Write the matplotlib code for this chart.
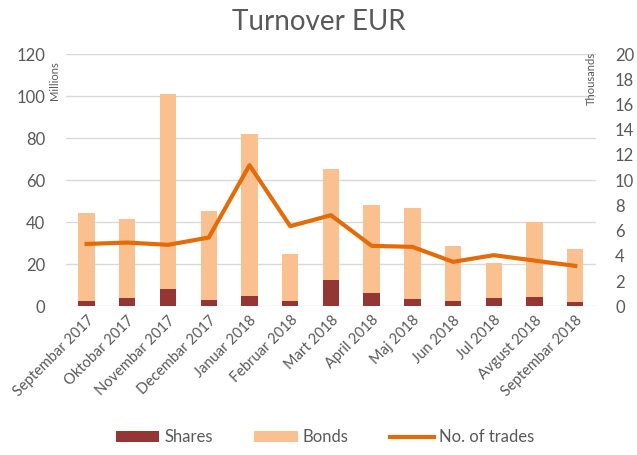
import matplotlib
matplotlib.use("Agg")
import matplotlib.pyplot as plt
import numpy as np

plt.rcParams['font.family'] = ['Lato', 'DejaVu Sans']

months = ["Septembar 2017", "Oktobar 2017", "Novembar 2017", "Decembar 2017",
          "Januar 2018", "Februar 2018", "Mart 2018", "April 2018", "Maj 2018",
          "Jun 2018", "Jul 2018", "Avgust 2018", "Septembar 2018"]
shares = [2.5, 4.0, 8.1, 2.9, 4.9, 2.4, 12.7, 6.2, 3.5, 2.4, 3.7, 4.4, 1.8]   # millions
totals = [44.6, 41.4, 101.1, 45.1, 81.9, 24.8, 65.1, 48.3, 46.8, 28.6, 20.6, 40.0, 27.1]
bonds = [t - s for t, s in zip(totals, shares)]
trades = [4.94, 5.05, 4.87, 5.45, 11.19, 6.35, 7.22, 4.79, 4.71, 3.52, 4.05, 3.62, 3.2]  # thousands

grey = "#595959"
fig = plt.figure(figsize=(6.37, 4.55), dpi=100)
ax = fig.add_axes([0.104, 0.327, 0.831, 0.554])
x = np.arange(len(months))
ax.bar(x, shares, width=0.4, color="#943634", label="Shares", zorder=2)
ax.bar(x, bonds, width=0.4, bottom=shares, color="#FAC090", label="Bonds", zorder=2)
ax.set_ylim(0, 120)
ax.set_yticks(range(0, 121, 20))
ax.set_xlim(-0.5, len(months) - 0.5)
ax.grid(axis="y", color="#d9d9d9", linewidth=1, zorder=0)
ax.set_axisbelow(True)
for s in ax.spines.values():
    s.set_visible(False)
ax.tick_params(length=0, colors=grey, labelsize=12)
ax.tick_params(axis="y", pad=15)
ax.set_xticks(x)
ax.set_xticklabels(months, rotation=45, ha="right", rotation_mode="anchor", fontsize=10.5)
ax.tick_params(axis="x", pad=5)

ax2 = ax.twinx()
ax2.plot(x, trades, color="#E36C09", linewidth=3, label="No. of trades", zorder=3)
ax2.set_ylim(0, 20)
ax2.set_yticks(range(0, 21, 2))
for s in ax2.spines.values():
    s.set_visible(False)
ax2.tick_params(length=0, colors=grey, labelsize=12, pad=14)

fig.text(0.085, 0.865, "Millions", rotation=90, ha="center", va="top", fontsize=8, color=grey)
fig.text(0.928, 0.885, "Thousands", rotation=90, ha="center", va="top", fontsize=8, color=grey)
fig.suptitle("Turnover EUR", y=0.98, fontsize=20, color=grey)

h1, l1 = ax.get_legend_handles_labels()
h2, l2 = ax2.get_legend_handles_labels()
fig.legend(h1 + h2, l1 + l2, loc="lower center", bbox_to_anchor=(0.51, -0.012), ncol=3,
           frameon=False, fontsize=12, labelcolor=grey, columnspacing=2.5,
           handlelength=2.6, handletextpad=0.3)

fig.savefig("out.png", dpi=100)
